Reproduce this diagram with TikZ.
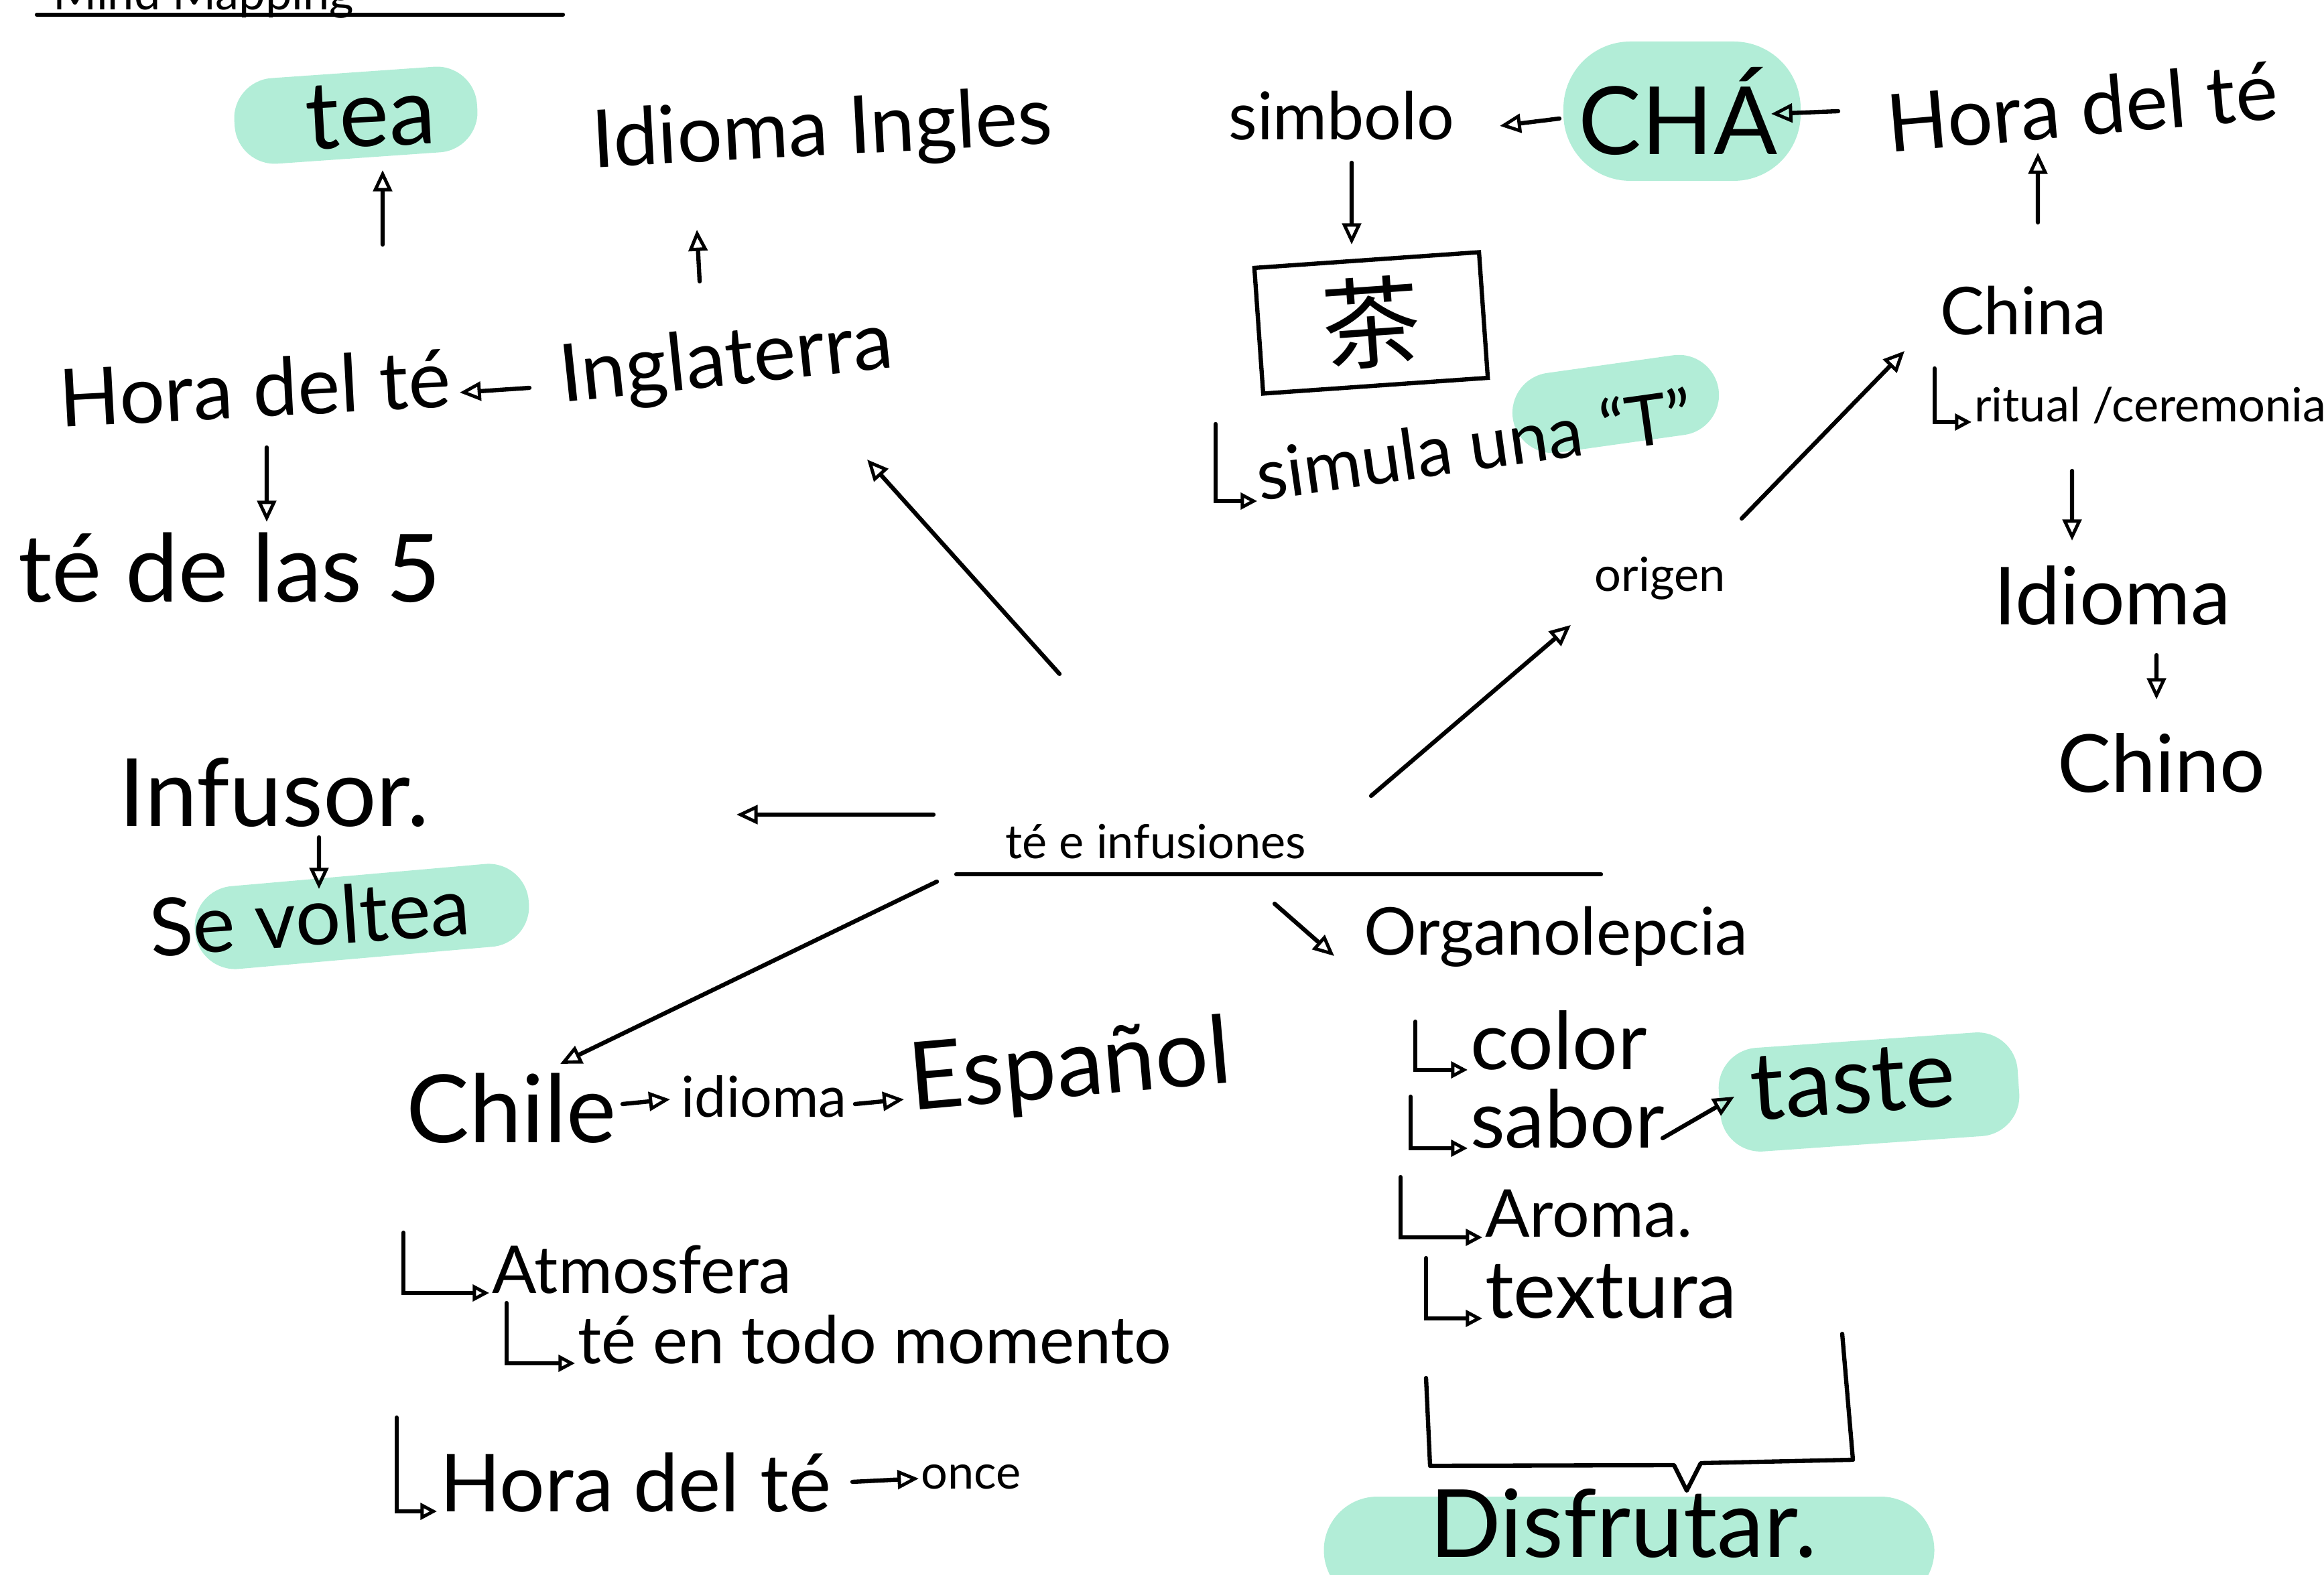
\documentclass[tikz,border=0pt]{standalone}
\usepackage{fontspec}
\setmainfont{Lato}
\newfontfamily\cjk{Noto Sans CJK SC}
\usetikzlibrary{arrows.meta,backgrounds}

\definecolor{menta}{RGB}{178,237,215}

\begin{document}
\begin{tikzpicture}[
  every node/.style={inner sep=1pt},
  txtL/.style={font=\fontsize{40}{46}\selectfont},
  txtM/.style={font=\fontsize{34}{40}\selectfont},
  txtS/.style={font=\fontsize{28}{34}\selectfont},
  txtXS/.style={font=\fontsize{20}{24}\selectfont},
  trazo/.style={line width=1.8pt, line cap=round},
  flecha/.style={trazo, -{Triangle[open, length=9pt, width=8pt, line width=1.4pt]}},
  gancho/.style={trazo, -{Triangle[open, length=7pt, width=7pt, line width=1.4pt]}},
  resalte/.style={fill=menta, rounded corners=0.6cm, inner sep=0pt}]
  \useasboundingbox (0,0) rectangle (34.68,23.5);

  % title
  \node[txtXS, anchor=base west] (titulo) at (0.75,23.35) {Mind Mapping};
  \draw[trazo] ([shift={(-0.2,-0.07)}]titulo.base west) -- ++(7.85,0);

  % England branch
  \node[txtL, rotate=3] (tea) at (5.53,21.78) {tea};
  \node[txtM, rotate=3] (ingles) at (12.27,21.51) {Idioma Ingles};
  \node[txtM, rotate=6] (inglaterra) at (10.84,18.08) {Inglaterra};
  \node[txtM, rotate=3] (horaEN) at (3.80,17.71) {Hora del té};
  \node[txtL] (cinco) at (3.43,15.03) {té de las 5};

  % infusor
  \node[txtL] (infusor) at (4.09,11.67) {Infusor.};
  \node[txtM, rotate=4] (volteo) at (4.62,9.82) {Se voltea};

  % centre
  \node[txtXS] (centro) at (17.25,10.94) {té e infusiones};
  \draw[trazo] ([shift={(-2.98,-0.49)}]centro.center) -- ([shift={(6.64,-0.49)}]centro.center);

  % Chile branch
  \node[txtL] (chile) at (7.63,6.96) {Chile};
  \node[font=\fontsize{24}{30}\selectfont] (idioma) at (11.40,7.13) {idioma};
  \node[txtL, rotate=5] (espanol) at (15.97,7.53) {Español};
  \node[txtS, anchor=base west] (atmos) at (7.30,4.20) {Atmosfera};
  \node[txtS, anchor=base west] (momento) at (8.58,3.15) {té en todo momento};
  \node[txtM, anchor=base west] (horaCL) at (6.52,0.94) {Hora del té};
  \node[txtXS] (once) at (14.49,1.45) {once};

  % China branch
  \node[txtXS] (origen) at (24.77,14.87) {origen};
  \node[txtS] (china) at (30.19,18.86) {China};
  \node[txtXS, anchor=base west] (ritual) at (29.42,17.20) {ritual /ceremonia};
  \node[txtM] (idiomaCN) at (31.52,14.61) {Idioma};
  \node[txtM] (chino) at (32.25,12.11) {Chino};
  \node[txtM, rotate=5] (horaCN) at (31.07,21.91) {Hora del té};
  \node[txtL] (cha) at (25.04,21.84) {CHÁ};
  \node[txtS] (simbolo) at (20.02,21.77) {simbolo};
  \node[draw, line width=1.8pt, rotate=4, minimum width=3.36cm, minimum height=1.88cm,
    font=\cjk\fontsize{42}{48}\selectfont] (kanji) at (20.46,18.68) {茶};
  \node[font=\fontsize{30}{36}\selectfont, anchor=base west, rotate=8] (simula) at (18.76,16.02) {simula una “T”};

  % organolepsis branch
  \node[txtS] (organo) at (23.22,9.52) {Organolepcia};
  \node[txtM, anchor=base west] (color) at (21.90,7.53) {color};
  \node[txtM, anchor=base west] (sabor) at (21.90,6.36) {sabor};
  \node[txtL, rotate=4] (taste) at (27.65,7.35) {taste};
  \node[txtS, anchor=base west] (aroma) at (22.12,5.03) {Aroma.};
  \node[txtM, anchor=base west] (textura) at (22.12,3.82) {textura};
  \node[txtL] (disfrutar) at (24.22,0.76) {Disfrutar.};

  % highlighter marks
  \begin{scope}[on background layer]
    \node[resalte, rotate=4, minimum width=3.63cm, minimum height=1.28cm] (tea-hl) at ([xshift=-0.22cm]tea.center) {};
    \node[resalte, rotate=5, minimum width=5.0cm, minimum height=1.24cm] (volteo-hl) at ([xshift=0.78cm]volteo.center) {};
    \node[resalte, rounded corners=1cm, minimum width=3.54cm, minimum height=2.08cm] (cha-hl) at ([xshift=0.06cm]cha.center) {};
    \node[resalte, rotate=8, minimum width=3.1cm, minimum height=1.2cm] (T-hl) at ([shift={(5.35,1.45)}]simula.base west) {};
    \node[resalte, rotate=4, minimum width=4.47cm, minimum height=1.55cm] (taste-hl) at ([shift={(0.24,-0.15)}]taste.center) {};
    \node[resalte, rounded corners=0.8cm, minimum width=9.11cm, minimum height=1.6cm] (disfrutar-hl) at ([shift={(0.09,-0.40)}]disfrutar.center) {};
  \end{scope}

  % arrows
  \draw[flecha] ([shift={(1.91,2.14)}]horaEN.center) -- ([shift={(0.18,-0.82)}]tea.center);
  \draw[flecha] ([shift={(-0.40,1.22)}]inglaterra.center) -- ([shift={(-1.87,-1.44)}]ingles.center);
  \draw[flecha] ([shift={(-2.94,-0.37)}]inglaterra.center) -- ([shift={(3.06,-0.07)}]horaEN.center);
  \draw[flecha] ([shift={(0.18,-0.89)}]horaEN.center) -- ([shift={(0.55,0.68)}]cinco.center);
  \draw[flecha] ([shift={(-1.44,2.50)}]centro.center) -- ([shift={(2.10,-1.44)}]inglaterra.center);
  \draw[flecha] ([shift={(-3.32,0.40)}]centro.center) -- ([shift={(6.90,-0.33)}]infusor.center);
  \draw[flecha] ([shift={(0.67,-0.67)}]infusor.center) -- ([shift={(0.14,0.41)}]volteo.center);
  \draw[flecha] ([shift={(-3.27,-0.60)}]centro.center) -- ([shift={(0.73,0.66)}]chile.center);
  \draw[flecha] ([shift={(1.66,0.06)}]chile.center) -- ([shift={(-1.40,-0.04)}]idioma.center);
  \draw[flecha] ([shift={(1.36,-0.11)}]idioma.center) -- ([shift={(-2.48,-0.44)}]espanol.center);
  \draw[flecha] ([shift={(6.20,0.44)}]horaCL.base west) -- ([shift={(-0.78,-0.02)}]once.center);
  \draw[flecha] ([shift={(3.21,0.68)}]centro.center) -- ([shift={(-1.33,-0.70)}]origen.center);
  \draw[flecha] ([shift={(1.22,0.89)}]origen.center) -- ([shift={(-1.77,-0.60)}]china.center);
  \draw[flecha] ([shift={(0.22,1.32)}]china.center) -- ([shift={(-0.66,-0.69)}]horaCN.center);
  \draw[flecha] ([shift={(1.50,-0.73)}]ritual.base west) -- ([shift={(-0.60,0.82)}]idiomaCN.center);
  \draw[flecha] ([shift={(0.66,-0.89)}]idiomaCN.center) -- ([shift={(-0.07,0.95)}]chino.center);
  \draw[flecha] ([shift={(-3.64,-0.07)}]horaCN.center) -- ([shift={(1.39,-0.04)}]cha.center);
  \draw[flecha] ([shift={(-1.77,-0.11)}]cha.center) -- ([shift={(2.36,-0.15)}]simbolo.center);
  \draw[flecha] ([shift={(0.15,-0.70)}]simbolo.center) -- ([shift={(-0.29,1.17)}]kanji.center);
  \draw[flecha] ([shift={(1.77,-0.93)}]centro.center) -- ([shift={(-3.31,-0.29)}]organo.center);
  \draw[flecha] ([shift={(2.91,0.15)}]sabor.base west) -- ([shift={(-1.77,-0.22)}]taste.center);

  % list hooks
  \draw[gancho] ([shift={(-0.55,0.80)}]ritual.base west) |- (ritual.base west);
  \draw[gancho] ([shift={(-0.62,1.15)}]simula.base west) |- (simula.base west);
  \draw[gancho] ([shift={(-0.78,0.72)}]color.base west) |- (color.base west);
  \draw[gancho] ([shift={(-0.85,0.77)}]sabor.base west) |- (sabor.base west);
  \draw[gancho] ([shift={(-1.22,0.90)}]aroma.base west) |- (aroma.base west);
  \draw[gancho] ([shift={(-0.84,0.90)}]textura.base west) |- (textura.base west);
  \draw[gancho] ([shift={(-1.28,0.90)}]atmos.base west) |- (atmos.base west);
  \draw[gancho] ([shift={(-1.02,0.90)}]momento.base west) |- (momento.base west);
  \draw[gancho] ([shift={(-0.60,1.40)}]horaCL.base west) |- (horaCL.base west);

  % bracket over the senses
  \draw[trazo, line join=round] (21.28,2.93) -- (21.34,1.62) -- (24.98,1.63) -- (25.17,1.25)
    -- (25.38,1.66) -- (27.65,1.71) -- (27.49,3.59);
\end{tikzpicture}
\end{document}
